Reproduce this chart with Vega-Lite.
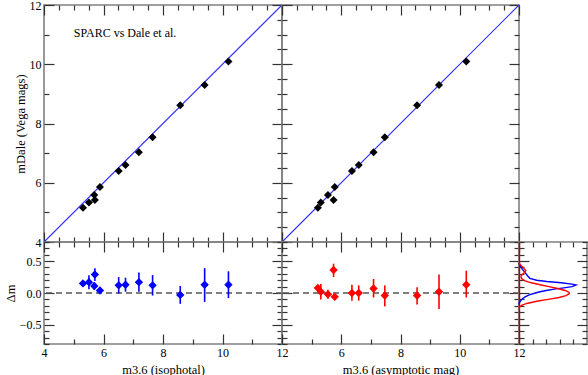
{
 "$schema": "https://vega.github.io/schema/vega-lite/v6.json",
 "background": "white",
 "padding": {"left": 3, "top": -2, "right": 1, "bottom": 0},
 "columns": 3,
 "spacing": 0,
 "bounds": "flush",
 "align": "each",
 "config": {
  "view": {"stroke": "#808080", "strokeWidth": 1.6},
  "font": "Liberation Serif",
  "axis": {"grid": false, "domain": false, "labelFont": "Liberation Serif", "labelFontSize": 12, "labelColor": "#000", "titleFont": "Liberation Serif", "titleFontSize": 12.5, "titleFontWeight": "normal", "titleColor": "#000", "tickColor": "#333", "tickWidth": 1.2, "labelOverlap": false, "labelFlush": false, "labelPadding": 13, "titlePadding": 2},
  "axisBottom": {"titlePadding": 0}
 },
 "datasets": {
  "iso": [
   {"x": 5.31, "dale": 5.16, "dm": 0.15, "lo": 0.10, "hi": 0.20},
   {"x": 5.51, "dale": 5.33, "dm": 0.17, "lo": 0.06, "hi": 0.28},
   {"x": 5.71, "dale": 5.42, "dm": 0.29, "lo": 0.19, "hi": 0.39},
   {"x": 5.69, "dale": 5.59, "dm": 0.11, "lo": 0.05, "hi": 0.17},
   {"x": 5.88, "dale": 5.86, "dm": 0.04, "lo": 0.00, "hi": 0.08},
   {"x": 6.51, "dale": 6.40, "dm": 0.12, "lo": -0.01, "hi": 0.25},
   {"x": 6.74, "dale": 6.60, "dm": 0.13, "lo": 0.02, "hi": 0.24},
   {"x": 7.19, "dale": 7.03, "dm": 0.17, "lo": 0.02, "hi": 0.32},
   {"x": 7.65, "dale": 7.54, "dm": 0.12, "lo": -0.04, "hi": 0.28},
   {"x": 8.58, "dale": 8.62, "dm": -0.03, "lo": -0.17, "hi": 0.11},
   {"x": 9.40, "dale": 9.30, "dm": 0.13, "lo": -0.14, "hi": 0.39},
   {"x": 10.20, "dale": 10.09, "dm": 0.13, "lo": -0.08, "hi": 0.34}
  ],
  "asy": [
   {"x": 5.21, "dale": 5.16, "dm": 0.08, "lo": 0.03, "hi": 0.13},
   {"x": 5.31, "dale": 5.33, "dm": 0.02, "lo": -0.10, "hi": 0.14},
   {"x": 5.55, "dale": 5.59, "dm": -0.02, "lo": -0.09, "hi": 0.05},
   {"x": 5.74, "dale": 5.42, "dm": 0.36, "lo": 0.25, "hi": 0.46},
   {"x": 5.78, "dale": 5.86, "dm": -0.06, "lo": -0.11, "hi": -0.01},
   {"x": 6.36, "dale": 6.40, "dm": 0.00, "lo": -0.12, "hi": 0.13},
   {"x": 6.59, "dale": 6.60, "dm": 0.00, "lo": -0.12, "hi": 0.12},
   {"x": 7.09, "dale": 7.03, "dm": 0.07, "lo": -0.07, "hi": 0.22},
   {"x": 7.47, "dale": 7.54, "dm": -0.04, "lo": -0.21, "hi": 0.12},
   {"x": 8.56, "dale": 8.62, "dm": -0.04, "lo": -0.18, "hi": 0.09},
   {"x": 9.30, "dale": 9.30, "dm": 0.02, "lo": -0.25, "hi": 0.29},
   {"x": 10.22, "dale": 10.09, "dm": 0.13, "lo": -0.07, "hi": 0.35}
  ],
  "one": [{"x": 4, "y": 4}, {"x": 12, "y": 12}],
  "lab": [{"x": 5.0, "y": 11.05, "t": "SPARC vs Dale et al."}],
  "kdeb": [
   {"d": 0.47, "v": 0}, {"d": 0.42, "v": 0.022}, {"d": 0.37, "v": 0.05}, {"d": 0.32, "v": 0.09},
   {"d": 0.27, "v": 0.125}, {"d": 0.23, "v": 0.16}, {"d": 0.20, "v": 0.26}, {"d": 0.18, "v": 0.41},
   {"d": 0.16, "v": 0.62}, {"d": 0.14, "v": 0.78}, {"d": 0.125, "v": 0.84}, {"d": 0.10, "v": 0.78},
   {"d": 0.08, "v": 0.66}, {"d": 0.06, "v": 0.52}, {"d": 0.04, "v": 0.40}, {"d": 0.02, "v": 0.31},
   {"d": 0.0, "v": 0.24}, {"d": -0.03, "v": 0.15}, {"d": -0.06, "v": 0.09}, {"d": -0.09, "v": 0.05},
   {"d": -0.12, "v": 0.025}, {"d": -0.15, "v": 0.007}, {"d": -0.18, "v": 0}
  ],
  "kder": [
   {"d": 0.47, "v": 0}, {"d": 0.43, "v": 0.03}, {"d": 0.39, "v": 0.07}, {"d": 0.35, "v": 0.10},
   {"d": 0.31, "v": 0.07}, {"d": 0.28, "v": 0.037}, {"d": 0.25, "v": 0.03}, {"d": 0.22, "v": 0.044},
   {"d": 0.19, "v": 0.09}, {"d": 0.16, "v": 0.18}, {"d": 0.13, "v": 0.31}, {"d": 0.10, "v": 0.44},
   {"d": 0.07, "v": 0.57}, {"d": 0.04, "v": 0.68}, {"d": 0.01, "v": 0.735}, {"d": -0.01, "v": 0.74},
   {"d": -0.04, "v": 0.69}, {"d": -0.07, "v": 0.59}, {"d": -0.10, "v": 0.43}, {"d": -0.13, "v": 0.26},
   {"d": -0.16, "v": 0.13}, {"d": -0.19, "v": 0.044}, {"d": -0.22, "v": 0.007}, {"d": -0.24, "v": 0}
  ]
 },
 "concat": [
  {
   "width": 238, "height": 237,
   "layer": [
    {"data": {"name": "one"}, "mark": {"type": "line", "stroke": "#3333ff", "color": "#3333ff", "strokeWidth": 1.1},
     "encoding": {
      "x": {"field": "x", "type": "quantitative", "scale": {"domain": [4, 12], "nice": false, "zero": false}, "axis": {"orient": "top", "values": [4,4.5,5,5.5,6,6.5,7,7.5,8,8.5,9,9.5,10,10.5,11,11.5,12], "labels": false, "title": null, "tickSize": {"condition": {"test": "datum.value % 2 === 0", "value": -10}, "value": -5}}},
      "y": {"field": "y", "type": "quantitative", "scale": {"domain": [4, 12], "nice": false, "zero": false}, "axis": {"orient": "right", "values": [4,4.5,5,5.5,6,6.5,7,7.5,8,8.5,9,9.5,10,10.5,11,11.5,12], "labels": false, "title": null, "tickSize": {"condition": {"test": "datum.value % 2 === 0", "value": -10}, "value": -5}}}
     }},
    {"data": {"name": "iso"}, "mark": {"type": "point", "shape": "diamond", "filled": true, "color": "#000", "opacity": 1, "size": 64},
     "encoding": {
      "x": {"field": "x", "type": "quantitative", "scale": {"domain": [4, 12], "nice": false, "zero": false}, "axis": {"orient": "bottom", "values": [4,4.5,5,5.5,6,6.5,7,7.5,8,8.5,9,9.5,10,10.5,11,11.5,12], "labels": false, "title": null, "tickSize": {"condition": {"test": "datum.value % 2 === 0", "value": -10}, "value": -5}}},
      "y": {"field": "dale", "type": "quantitative", "scale": {"domain": [4, 12], "nice": false, "zero": false}, "axis": {"orient": "left", "values": [4,4.5,5,5.5,6,6.5,7,7.5,8,8.5,9,9.5,10,10.5,11,11.5,12], "format": "d", "labelExpr": "datum.value % 2 === 0 ? datum.label : ''", "title": "mDale (Vega mags)", "tickSize": {"condition": {"test": "datum.value % 2 === 0", "value": -10}, "value": -5}}}
     }},
    {"data": {"name": "lab"}, "mark": {"type": "text", "align": "left", "baseline": "middle", "fontSize": 12, "font": "Liberation Serif", "color": "#000"},
     "encoding": {
      "x": {"field": "x", "type": "quantitative", "scale": {"domain": [4, 12], "nice": false, "zero": false}, "axis": null},
      "y": {"field": "y", "type": "quantitative", "scale": {"domain": [4, 12], "nice": false, "zero": false}, "axis": null},
      "text": {"field": "t"}
     }}
   ],
   "resolve": {"axis": {"x": "independent", "y": "independent"}}
  },
  {
   "width": 237, "height": 237,
   "layer": [
    {"data": {"name": "one"}, "mark": {"type": "line", "stroke": "#3333ff", "color": "#3333ff", "strokeWidth": 1.1},
     "encoding": {
      "x": {"field": "x", "type": "quantitative", "scale": {"domain": [4, 12], "nice": false, "zero": false}, "axis": {"orient": "top", "values": [4,4.5,5,5.5,6,6.5,7,7.5,8,8.5,9,9.5,10,10.5,11,11.5,12], "labels": false, "title": null, "tickSize": {"condition": {"test": "datum.value % 2 === 0", "value": -10}, "value": -5}}},
      "y": {"field": "y", "type": "quantitative", "scale": {"domain": [4, 12], "nice": false, "zero": false}, "axis": {"orient": "right", "values": [4,4.5,5,5.5,6,6.5,7,7.5,8,8.5,9,9.5,10,10.5,11,11.5,12], "labels": false, "title": null, "tickSize": {"condition": {"test": "datum.value % 2 === 0", "value": -10}, "value": -5}}}
     }},
    {"data": {"name": "asy"}, "mark": {"type": "point", "shape": "diamond", "filled": true, "color": "#000", "opacity": 1, "size": 64},
     "encoding": {
      "x": {"field": "x", "type": "quantitative", "scale": {"domain": [4, 12], "nice": false, "zero": false}, "axis": {"orient": "bottom", "values": [4,4.5,5,5.5,6,6.5,7,7.5,8,8.5,9,9.5,10,10.5,11,11.5,12], "labels": false, "title": null, "tickSize": {"condition": {"test": "datum.value % 2 === 0", "value": -10}, "value": -5}}},
      "y": {"field": "dale", "type": "quantitative", "scale": {"domain": [4, 12], "nice": false, "zero": false}, "axis": {"orient": "left", "values": [4,4.5,5,5.5,6,6.5,7,7.5,8,8.5,9,9.5,10,10.5,11,11.5,12], "labels": false, "title": null, "tickSize": {"condition": {"test": "datum.value % 2 === 0", "value": -10}, "value": -5}}}
     }}
   ],
   "resolve": {"axis": {"x": "independent", "y": "independent"}}
  },
  {"width": 68, "height": 237, "view": {"stroke": null}, "data": {"values": []}, "mark": "point", "encoding": {}},
  {
   "width": 238, "height": 102,
   "layer": [
    {"data": {"values": [{}]}, "mark": {"type": "rule", "color": "#555", "strokeDash": [6, 4], "strokeWidth": 1.3},
     "encoding": {"y": {"datum": 0, "type": "quantitative", "scale": {"domain": [-0.8, 0.8], "nice": false, "zero": false}, "axis": null}}},
    {"data": {"name": "iso"}, "mark": {"type": "rule", "color": "#0000ff", "strokeWidth": 1.6},
     "encoding": {
      "x": {"field": "x", "type": "quantitative", "scale": {"domain": [4, 12], "nice": false, "zero": false}, "axis": {"orient": "top", "values": [4,4.5,5,5.5,6,6.5,7,7.5,8,8.5,9,9.5,10,10.5,11,11.5,12], "labels": false, "title": null, "tickSize": {"condition": {"test": "datum.value % 2 === 0", "value": -10}, "value": -5}}},
      "y": {"field": "lo", "type": "quantitative", "scale": {"domain": [-0.8, 0.8], "nice": false, "zero": false}, "axis": {"orient": "right", "values": [-0.8,-0.7,-0.6,-0.5,-0.4,-0.3,-0.2,-0.1,0,0.1,0.2,0.3,0.4,0.5,0.6,0.7,0.8], "labels": false, "title": null, "tickSize": {"condition": {"test": "abs(datum.value) % 0.5 < 0.001", "value": -10}, "value": -5}}},
      "y2": {"field": "hi"}
     }},
    {"data": {"name": "iso"}, "mark": {"type": "point", "shape": "diamond", "filled": true, "color": "#0000ff", "opacity": 1, "size": 70},
     "encoding": {
      "x": {"field": "x", "type": "quantitative", "scale": {"domain": [4, 12], "nice": false, "zero": false}, "axis": {"orient": "bottom", "values": [4,4.5,5,5.5,6,6.5,7,7.5,8,8.5,9,9.5,10,10.5,11,11.5,12], "format": "d", "labelExpr": "datum.value % 2 === 0 ? datum.label : ''", "title": "m3.6 (isophotal)", "tickSize": {"condition": {"test": "datum.value % 2 === 0", "value": -10}, "value": -5}}},
      "y": {"field": "dm", "type": "quantitative", "scale": {"domain": [-0.8, 0.8], "nice": false, "zero": false}, "axis": {"orient": "left", "values": [-0.8,-0.7,-0.6,-0.5,-0.4,-0.3,-0.2,-0.1,0,0.1,0.2,0.3,0.4,0.5,0.6,0.7,0.8], "format": ".1f", "labelExpr": "abs(datum.value) % 0.5 < 0.001 ? datum.label : ''", "title": "Δm", "tickSize": {"condition": {"test": "abs(datum.value) % 0.5 < 0.001", "value": -10}, "value": -5}}}
     }}
   ],
   "resolve": {"axis": {"x": "independent", "y": "independent"}}
  },
  {
   "width": 237, "height": 102,
   "layer": [
    {"data": {"values": [{}]}, "mark": {"type": "rule", "color": "#555", "strokeDash": [6, 4], "strokeWidth": 1.3},
     "encoding": {"y": {"datum": 0, "type": "quantitative", "scale": {"domain": [-0.8, 0.8], "nice": false, "zero": false}, "axis": null}}},
    {"data": {"name": "asy"}, "mark": {"type": "rule", "color": "#ff0000", "strokeWidth": 1.6},
     "encoding": {
      "x": {"field": "x", "type": "quantitative", "scale": {"domain": [4, 12], "nice": false, "zero": false}, "axis": {"orient": "top", "values": [4,4.5,5,5.5,6,6.5,7,7.5,8,8.5,9,9.5,10,10.5,11,11.5,12], "labels": false, "title": null, "tickSize": {"condition": {"test": "datum.value % 2 === 0", "value": -10}, "value": -5}}},
      "y": {"field": "lo", "type": "quantitative", "scale": {"domain": [-0.8, 0.8], "nice": false, "zero": false}, "axis": {"orient": "right", "values": [-0.8,-0.7,-0.6,-0.5,-0.4,-0.3,-0.2,-0.1,0,0.1,0.2,0.3,0.4,0.5,0.6,0.7,0.8], "labels": false, "title": null, "tickSize": {"condition": {"test": "abs(datum.value) % 0.5 < 0.001", "value": -10}, "value": -5}}},
      "y2": {"field": "hi"}
     }},
    {"data": {"name": "asy"}, "mark": {"type": "point", "shape": "diamond", "filled": true, "color": "#ff0000", "opacity": 1, "size": 70},
     "encoding": {
      "x": {"field": "x", "type": "quantitative", "scale": {"domain": [4, 12], "nice": false, "zero": false}, "axis": {"orient": "bottom", "values": [4,4.5,5,5.5,6,6.5,7,7.5,8,8.5,9,9.5,10,10.5,11,11.5,12], "format": "d", "labelExpr": "datum.value % 2 === 0 && datum.value > 4 ? datum.label : ''", "title": "m3.6 (asymptotic mag)", "tickSize": {"condition": {"test": "datum.value % 2 === 0", "value": -10}, "value": -5}}},
      "y": {"field": "dm", "type": "quantitative", "scale": {"domain": [-0.8, 0.8], "nice": false, "zero": false}, "axis": {"orient": "left", "values": [-0.8,-0.7,-0.6,-0.5,-0.4,-0.3,-0.2,-0.1,0,0.1,0.2,0.3,0.4,0.5,0.6,0.7,0.8], "labels": false, "title": null, "tickSize": {"condition": {"test": "abs(datum.value) % 0.5 < 0.001", "value": -10}, "value": -5}}}
     }}
   ],
   "resolve": {"axis": {"x": "independent", "y": "independent"}}
  },
  {
   "width": 68, "height": 102,
   "layer": [
    {"data": {"name": "kdeb"}, "mark": {"type": "line", "color": "#0000ff", "strokeWidth": 1.4},
     "encoding": {
      "x": {"field": "v", "type": "quantitative", "scale": {"domain": [0, 1], "nice": false, "zero": false}, "axis": {"orient": "bottom", "values": [0.2, 0.4, 0.6, 0.8], "labels": false, "title": null, "tickSize": -5}},
      "y": {"field": "d", "type": "quantitative", "scale": {"domain": [-0.8, 0.8], "nice": false, "zero": false}, "axis": {"orient": "left", "values": [-0.8,-0.7,-0.6,-0.5,-0.4,-0.3,-0.2,-0.1,0,0.1,0.2,0.3,0.4,0.5,0.6,0.7,0.8], "labels": false, "title": null, "domain": true, "domainColor": "#b00000", "domainWidth": 1.4, "tickSize": {"condition": {"test": "abs(datum.value) % 0.5 < 0.001", "value": -10}, "value": -5}}},
      "order": {"field": "d", "type": "quantitative"}
     }},
    {"data": {"name": "kder"}, "mark": {"type": "line", "color": "#ff0000", "strokeWidth": 1.4},
     "encoding": {
      "x": {"field": "v", "type": "quantitative", "scale": {"domain": [0, 1], "nice": false, "zero": false}, "axis": {"orient": "top", "values": [0.2, 0.4, 0.6, 0.8], "labels": false, "title": null, "tickSize": -5}},
      "y": {"field": "d", "type": "quantitative", "scale": {"domain": [-0.8, 0.8], "nice": false, "zero": false}, "axis": {"orient": "right", "values": [-0.8,-0.7,-0.6,-0.5,-0.4,-0.3,-0.2,-0.1,0,0.1,0.2,0.3,0.4,0.5,0.6,0.7,0.8], "labels": false, "title": null, "tickSize": {"condition": {"test": "abs(datum.value) % 0.5 < 0.001", "value": -10}, "value": -5}}},
      "order": {"field": "d", "type": "quantitative"}
     }}
   ],
   "resolve": {"axis": {"x": "independent", "y": "independent"}}
  }
 ]
}
